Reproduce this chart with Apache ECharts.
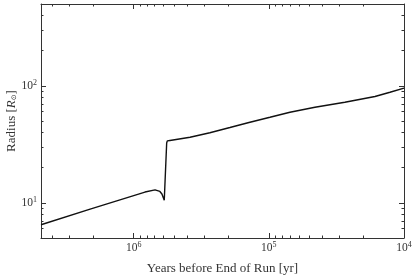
<!DOCTYPE html>
<html><head><meta charset="utf-8">
<script src="https://cdn.jsdelivr.net/npm/echarts@6/dist/echarts.min.js"></script>
<style>html,body{margin:0;padding:0;background:#fff}#c{width:415px;height:276px}</style>
</head><body><div id="c"></div>
<script>
const years = [4.85e6, 2.1e6, 8.25e5, 6.95e5, 6.4e5, 6.18e5, 5.94e5, 5.70e5, 5.64e5, 5.39e5, 3.83e5, 2.73e5, 1.94e5, 1.38e5, 9.81e4, 6.98e4, 4.56e4, 2.74e4, 1.64e4, 1.27e4, 1.0e4];
const radius = [6.49, 8.84, 12.35, 12.9, 12.5, 11.9, 10.5, 32.4, 33.8, 34.1, 36.3, 39.7, 44.0, 48.8, 53.8, 59.4, 65.5, 72.3, 81.0, 88.0, 95.5];
const xMajor = [1e6, 1e5, 1e4];
const xMinor = [2e4,3e4,4e4,5e4,6e4,7e4,8e4,9e4,2e5,3e5,4e5,5e5,6e5,7e5,8e5,9e5,2e6,3e6,4e6];
const yMajor = [10, 100];
const yMinor = [6,7,8,9,20,30,40,50,60,70,80,90,200,300,400];
const xRange = [1e4, 4.85e6];
const yRange = [5, 500];

const FONT = 'Liberation Serif';
const AX = '#333';
const rich = { b: {fontSize: 11.5, fontFamily: FONT, color: '#333'}, s: {fontSize: 8, fontFamily: FONT, color: '#333', verticalAlign: 'top', padding: [0,0,6,0]} };
function powLabel(v) { return '{b|10}{s|' + Math.round(Math.log10(v)) + '}'; }

function xAx(pos, vals, len, labels, line, name) {
  return {
    type: 'log', logBase: 10, min: xRange[0], max: xRange[1], inverse: true, position: pos,
    axisLine: {show: line, lineStyle: {color: AX, width: 1}},
    axisTick: {show: true, inside: true, length: len, customValues: vals, lineStyle: {color: AX, width: 1}},
    axisLabel: labels ? {show: true, customValues: vals, formatter: powLabel, rich: rich, margin: 3} : {show: false},
    splitLine: {show: false}, minorTick: {show: false},
    name: name || '', nameLocation: 'middle', nameGap: 24, nameMoveOverlap: false,
    nameTextStyle: {fontFamily: FONT, fontSize: 13, color: '#333'}
  };
}
function yAx(pos, vals, len, labels, line, name) {
  return {
    type: 'log', logBase: 10, min: yRange[0], max: yRange[1], position: pos,
    axisLine: {show: line, lineStyle: {color: AX, width: 1}},
    axisTick: {show: true, inside: true, length: len, customValues: vals, lineStyle: {color: AX, width: 1}},
    axisLabel: labels ? {show: true, customValues: vals, formatter: powLabel, rich: rich, margin: 4} : {show: false},
    splitLine: {show: false}, minorTick: {show: false},
    name: name || '', nameLocation: 'middle', nameGap: 23, nameRotate: 90, nameMoveOverlap: false,
    nameTextStyle: {fontFamily: FONT, fontSize: 13, color: '#333', rich: {
      t: {fontFamily: FONT, fontSize: 13, color: '#333'},
      i: {fontFamily: FONT, fontSize: 13, color: '#333', fontStyle: 'italic'},
      o: {fontFamily: 'DejaVu Sans', fontSize: 7, color: '#333', verticalAlign: 'bottom', padding: [6,0,0,0]}
    }}
  };
}

const chart = echarts.init(document.getElementById('c'), null, {renderer: 'canvas'});
chart.setOption({
  animation: false,
  grid: {left: 41, right: 11, top: 4, bottom: 38, containLabel: false, outerBoundsMode: 'none'},
  xAxis: [
    xAx('bottom', xMajor, 5, true, true, 'Years before End of Run [yr]'),
    xAx('bottom', xMinor, 2.5, false, false),
    xAx('top', xMajor, 5, false, true),
    xAx('top', xMinor, 2.5, false, false)
  ],
  yAxis: [
    yAx('left', yMajor, 5, true, true, '{t|Radius [}{i|R}{o|⊙}{t|]}'),
    yAx('left', yMinor, 2.5, false, false),
    yAx('right', yMajor, 5, false, true),
    yAx('right', yMinor, 2.5, false, false)
  ],
  series: [{
    type: 'line', xAxisIndex: 0, yAxisIndex: 0,
    data: years.map((t, i) => [t, radius[i]]),
    showSymbol: false, symbol: 'none', smooth: false,
    lineStyle: {color: '#111', width: 1.4}
  }]
});
</script></body></html>
